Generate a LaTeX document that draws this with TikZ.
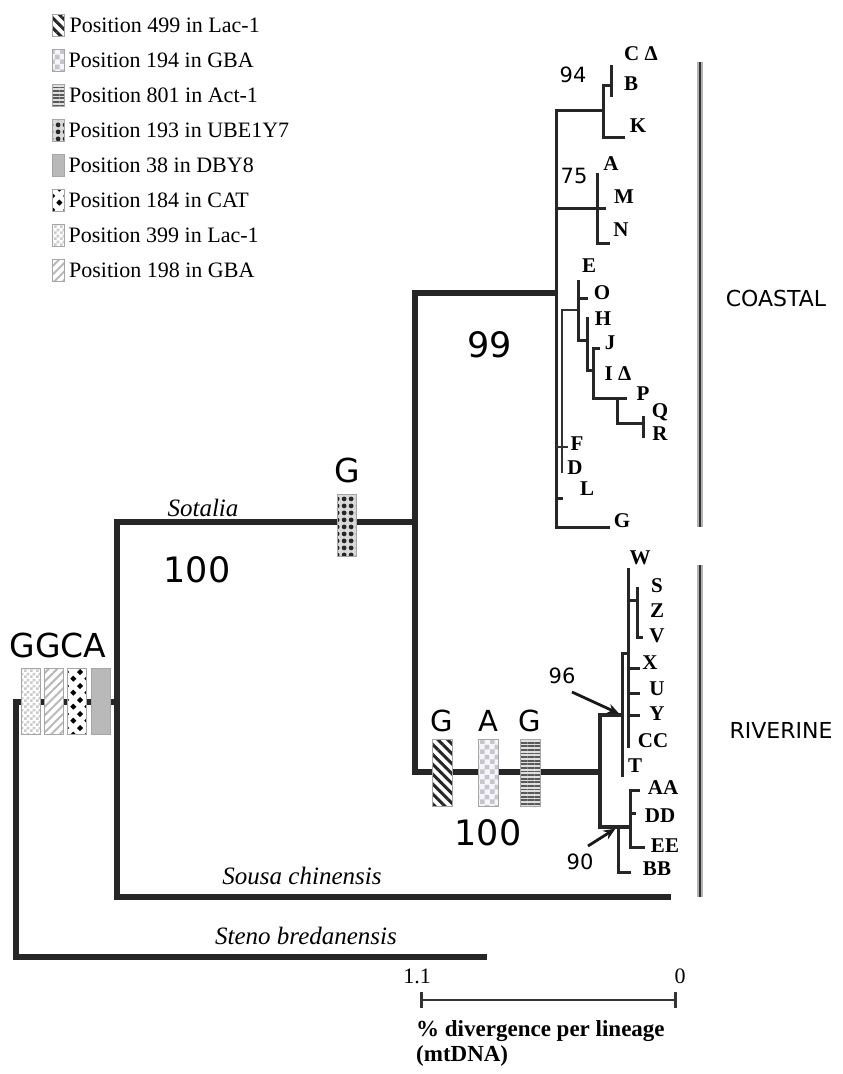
\documentclass[tikz,border=0pt]{standalone}
\usepackage{fontspec}
\setmainfont{Liberation Serif}
\newfontfamily\labelsans{DejaVu Sans}
\usetikzlibrary{positioning,arrows.meta,patterns,patterns.meta}

% marker fills
\pgfdeclarepatternformonly{bigchecks}{\pgfpointorigin}{\pgfpoint{10pt}{10pt}}{\pgfpoint{10pt}{10pt}}{%
  \pgfpathrectangle{\pgfpointorigin}{\pgfpoint{5pt}{5pt}}%
  \pgfpathrectangle{\pgfpoint{5pt}{5pt}}{\pgfpoint{5pt}{5pt}}%
  \pgfusepath{fill}}
\pgfdeclarepatternformonly{smallchecks}{\pgfpointorigin}{\pgfpoint{6pt}{6pt}}{\pgfpoint{6pt}{6pt}}{%
  \pgfpathrectangle{\pgfpointorigin}{\pgfpoint{3pt}{3pt}}%
  \pgfpathrectangle{\pgfpoint{3pt}{3pt}}{\pgfpoint{3pt}{3pt}}%
  \pgfusepath{fill}}
\pgfdeclarepatternformonly{diamondcheck}{\pgfpointorigin}{\pgfpoint{14pt}{14pt}}{\pgfpoint{14pt}{14pt}}{%
  \pgfpathmoveto{\pgfpoint{3.5pt}{0.3pt}}\pgfpathlineto{\pgfpoint{6.7pt}{3.5pt}}%
  \pgfpathlineto{\pgfpoint{3.5pt}{6.7pt}}\pgfpathlineto{\pgfpoint{0.3pt}{3.5pt}}\pgfpathclose
  \pgfpathmoveto{\pgfpoint{10.5pt}{7.3pt}}\pgfpathlineto{\pgfpoint{13.7pt}{10.5pt}}%
  \pgfpathlineto{\pgfpoint{10.5pt}{13.7pt}}\pgfpathlineto{\pgfpoint{7.3pt}{10.5pt}}\pgfpathclose
  \pgfusepath{fill}}

\begin{document}
\begin{tikzpicture}[x=1pt, y=-1pt, line join=miter]
    \tikzset{
      stem/.style = {line width=5.8pt, draw=black!85},
      midbranch/.style = {line width=3.8pt, draw=black!85},
      branch/.style = {line width=3pt, draw=black!85},
      twig/.style = {line width=1.8pt, draw=black!80},
      pointer/.style = {line width=2.8pt, draw=black!90, -{Stealth[length=12pt,width=10pt]}, shorten >=3pt},
      taxon/.style = {font=\fontsize{21}{21}\selectfont\bfseries, inner sep=0pt, text height=14pt, text depth=0pt},
      support/.style = {font=\labelsans\fontsize{21}{21}\selectfont, inner sep=0pt, text height=15pt, text depth=0pt},
      bignum/.style = {font=\labelsans\fontsize{35}{35}\selectfont, inner sep=0pt, text height=25pt, text depth=0pt},
      base/.style = {font=\labelsans\fontsize{33}{33}\selectfont, inner sep=0pt, text depth=0pt},
      smallbase/.style = {font=\labelsans\fontsize{29}{29}\selectfont, inner sep=0pt, text depth=0pt},
      species/.style = {font=\fontsize{25}{25}\selectfont\itshape, inner sep=0pt},
      group/.style = {font=\labelsans\fontsize{22}{22}\selectfont, inner sep=0pt},
      groupbar/.style = {line width=6pt, draw=gray!60, postaction={draw=black!80, line width=2.6pt}},
      legendtext/.style = {font=\fontsize{22}{22}\selectfont, inner sep=0pt, anchor=west},
      marker/.style = {rectangle, draw=gray!70, line width=0.8pt, minimum width=19pt, minimum height=66pt, inner sep=0pt},
      legendkey/.style = {minimum width=12pt, minimum height=22pt},
      lac499/.style = {marker, preaction={fill=white}, pattern={Lines[angle=-45,distance=7pt,line width=3pt]}, pattern color=black!85},
      gba194/.style = {marker, preaction={fill=blue!4}, pattern=bigchecks, pattern color=gray!45},
      act801/.style = {marker, preaction={fill=gray!25}, pattern={Lines[angle=0,distance=3.6pt,line width=1.8pt]}, pattern color=black!65},
      ube193/.style = {marker, preaction={fill=gray!30}, pattern={Dots[distance=6.5pt,radius=2.5pt]}, pattern color=black!85},
      dby8/.style = {marker, fill=gray!55},
      cat184/.style = {marker, preaction={fill=white}, pattern=diamondcheck, pattern color=black},
      lac399/.style = {marker, preaction={fill=white}, pattern=smallchecks, pattern color=gray!40},
      gba198/.style = {marker, preaction={fill=white}, pattern={Lines[angle=45,distance=6pt,line width=2pt]}, pattern color=gray!55}
    }
    \useasboundingbox (0,0) rectangle (843,1074);

    % legend
    \foreach \pat/\txt [count=\i] in {lac499/Position 499 in Lac-1, gba194/Position 194 in GBA, act801/Position 801 in Act-1, ube193/Position 193 in UBE1Y7, dby8/Position 38 in DBY8, cat184/Position 184 in CAT, lac399/Position 399 in Lac-1, gba198/Position 198 in GBA}
      {\node[\pat, legendkey] (key\i) at (58,{25+35*(\i-1)}) {};
       \node[legendtext, right=4pt of key\i] (keytext\i) {\txt};}

    % backbone
    \coordinate (rootStem) at (16,702);
    \coordinate (delphinNode) at (117,702);
    \coordinate (sotNode) at (415,522);
    \coordinate (sousaTip) at (671,897);
    \coordinate (stenoTip) at (487,957);
    \coordinate (coastNode) at (556,293);
    \coordinate (rivNode) at (600,772);
    \draw[stem] (delphinNode) -- (rootStem) |- (stenoTip);
    \draw[stem] (sotNode) -| (delphinNode) |- (sousaTip);
    \draw[stem] (coastNode) -| (sotNode) |- (rivNode);

    % coastal clade
    \coordinate (kNode) at (603,110);
    \coordinate (gTip) at (610,527);
    \draw[branch] (kNode) -| (coastNode) |- (gTip);
    \coordinate (cbNode) at (611,85);
    \coordinate (kTip) at (625,137);
    \draw[branch] (cbNode) -| (kNode) |- (kTip);
    \coordinate (cTip) at (611,65);
    \coordinate (bTip) at (611,97);
    \draw[branch] (cTip) -- (bTip);
    \coordinate (mTip) at (606,208);
    \coordinate (aTip) at (597,173);
    \coordinate (nTip) at (610,243);
    \draw[branch] (coastNode |- mTip) -- (mTip);
    \draw[branch] (aTip) |- (nTip);
    \coordinate (fTip) at (568,447);
    \coordinate (eNode) at (578,310);
    \coordinate (dTip) at (562,473);
    \draw[twig] (coastNode |- fTip) -- (fTip);
    \draw[twig] (eNode) -| (dTip);
    \coordinate (eTip) at (578,280);
    \coordinate (hNode) at (587,340);
    \coordinate (oTip) at (588,298);
    \draw[branch] (eTip) |- (hNode);
    \draw[branch] (eTip |- oTip) -- (oTip);
    \coordinate (hTip) at (587,317);
    \coordinate (jNode) at (593,370);
    \coordinate (jTip) at (600,348);
    \coordinate (pTip) at (627,398);
    \draw[branch] (hTip) |- (jNode);
    \draw[branch] (jTip) -| (jNode) |- (pTip);
    \coordinate (qrStem) at (617,398);
    \coordinate (qrNode) at (643,423);
    \draw[branch] (qrStem) |- (qrNode);
    \coordinate (qTip) at (643,416);
    \coordinate (rTip) at (643,438);
    \draw[branch] (qTip) -- (rTip);
    \coordinate (lTip) at (563,498);
    \draw[branch] (coastNode |- lTip) -- (lTip);

    % riverine clade
    \coordinate (r96Node) at (622,715);
    \coordinate (r90Node) at (630,827);
    \draw[midbranch] (r96Node) -| (rivNode) |- (r90Node);
    \coordinate (wNode) at (628,653);
    \coordinate (tTip) at (622,777);
    \draw[branch] (wNode) -| (tTip);
    \coordinate (wTip) at (628,568);
    \coordinate (ccTip) at (628,748);
    \draw[branch] (wTip) -- (ccTip);
    \coordinate (szvNode) at (637,600);
    \draw[branch] (wTip |- szvNode) -- (szvNode);
    \coordinate (sTip) at (637,587);
    \coordinate (vTip) at (643,637);
    \draw[branch] (sTip) |- (vTip);
    \foreach \tip/\y in {xTip/668, uTip/693, yTip/715}
      {\coordinate (\tip) at (640,\y);
       \draw[branch] (wTip |- \tip) -- (\tip);}
    \coordinate (aaTip) at (640,790);
    \coordinate (eeTip) at (645,847);
    \draw[branch] (aaTip) -| (r90Node) |- (eeTip);
    \coordinate (ddTip) at (636,813);
    \draw[branch] (r90Node |- ddTip) -- (ddTip);
    \coordinate (bbNode) at (618,827);
    \coordinate (bbTip) at (631,872);
    \draw[branch] (bbNode) |- (bbTip);

    % support arrows
    \coordinate (tail96) at (572,692);
    \coordinate (tail90) at (588,846);
    \draw[pointer] (tail96) -- (r96Node);
    \draw[pointer] (tail90) -- (bbNode);

    % substitutions
    \node[lac399] (mkRoot1) at (31,701) {};
    \node[gba198] (mkRoot2) at (54,701) {};
    \node[cat184] (mkRoot3) at (77,701) {};
    \node[dby8] (mkRoot4) at (101,701) {};
    \node[base, anchor=base] (lbRoot) at (58,657) {GGCA};
    \node[ube193, minimum height=62pt] (mkSot) at (347,525) {};
    \node[base, above=11pt of mkSot] (lbSot) {G};
    \node[lac499, minimum width=20pt, minimum height=67pt] (mkRiv1) at (442,773) {};
    \node[gba194, minimum width=20pt, minimum height=67pt] (mkRiv2) at (488,773) {};
    \node[act801, minimum width=20pt, minimum height=67pt] (mkRiv3) at (530,773) {};
    \node[smallbase, above=7pt of mkRiv1] (lbRiv1) {G};
    \node[smallbase, above=7pt of mkRiv2] (lbRiv2) {A};
    \node[smallbase, above=7pt of mkRiv3] (lbRiv3) {G};

    % bootstrap values
    \node[support] (bs94) at (573,75) {94};
    \node[support] (bs75) at (574,176) {75};
    \node[support] (bs96) at (562,676) {96};
    \node[support] (bs90) at (580,862) {90};
    \node[bignum] (bs99) at (490,345) {99};
    \node[bignum] (bsSot) at (197,570) {100};
    \node[bignum, below=13pt of mkRiv2] (bsRiv) {100};

    % taxon names
    \node[species] (lbSotalia) at (203,508) {Sotalia};
    \node[species] (lbSousa) at (302,876) {Sousa chinensis};
    \node[species] (lbSteno) at (306,936) {Steno bredanensis};

    % haplotypes
    \node[taxon] (hapC) at (641,53) {C Δ};
    \node[taxon] (hapB) at (631,83) {B};
    \node[taxon] (hapK) at (638,125) {K};
    \node[taxon] (hapA) at (611,163) {A};
    \node[taxon] (hapM) at (624,196) {M};
    \node[taxon] (hapN) at (621,229) {N};
    \node[taxon] (hapE) at (589,265) {E};
    \node[taxon] (hapO) at (602,292) {O};
    \node[taxon] (hapH) at (603,318) {H};
    \node[taxon] (hapJ) at (610,342) {J};
    \node[taxon] (hapI) at (618,373) {I Δ};
    \node[taxon] (hapP) at (643,393) {P};
    \node[taxon] (hapQ) at (660,410) {Q};
    \node[taxon] (hapR) at (660,433) {R};
    \node[taxon] (hapF) at (577,443) {F};
    \node[taxon] (hapD) at (575,467) {D};
    \node[taxon] (hapL) at (587,488) {L};
    \node[taxon] (hapG) at (622,520) {G};
    \node[taxon] (hapW) at (640,557) {W};
    \node[taxon] (hapS) at (657,585) {S};
    \node[taxon] (hapZ) at (657,610) {Z};
    \node[taxon] (hapV) at (657,635) {V};
    \node[taxon] (hapX) at (650,662) {X};
    \node[taxon] (hapU) at (657,688) {U};
    \node[taxon] (hapY) at (657,713) {Y};
    \node[taxon] (hapCC) at (653,740) {CC};
    \node[taxon] (hapT) at (635,765) {T};
    \node[taxon] (hapAA) at (663,787) {AA};
    \node[taxon] (hapDD) at (660,815) {DD};
    \node[taxon] (hapEE) at (665,845) {EE};
    \node[taxon] (hapBB) at (657,868) {BB};

    % groups
    \coordinate (coastTop) at (700,62);
    \coordinate (coastBot) at (700,527);
    \coordinate (rivTop) at (700,565);
    \coordinate (rivBot) at (700,897);
    \draw[groupbar] (coastTop) -- (coastBot);
    \draw[groupbar] (rivTop) -- (rivBot);
    \node[group] (lbCoastal) at (776,298) {COASTAL};
    \node[group] (lbRiverine) at (781,730) {RIVERINE};

    % scale
    \coordinate (scaleL) at (420,1000);
    \coordinate (scaleR) at (677,1000);
    \draw[line width=2.6pt, draw=black!80, {Bar[width=16pt]}-{Bar[width=16pt]}] (scaleL) -- (scaleR);
    \node[font=\fontsize{22}{22}\selectfont, inner sep=0pt, anchor=base] (scaleMax) at (417,983) {1.1};
    \node[font=\fontsize{22}{22}\selectfont, inner sep=0pt, anchor=base] (scaleMin) at (680,983) {0};
    \node[font=\fontsize{23}{23}\selectfont\bfseries, inner sep=0pt, anchor=base west] (scaleText) at (416,1036) {\% divergence per lineage};
    \node[font=\fontsize{23}{23}\selectfont\bfseries, inner sep=0pt, anchor=base west] (scaleUnit) at (416,1061) {(mtDNA)};
\end{tikzpicture}
\end{document}
